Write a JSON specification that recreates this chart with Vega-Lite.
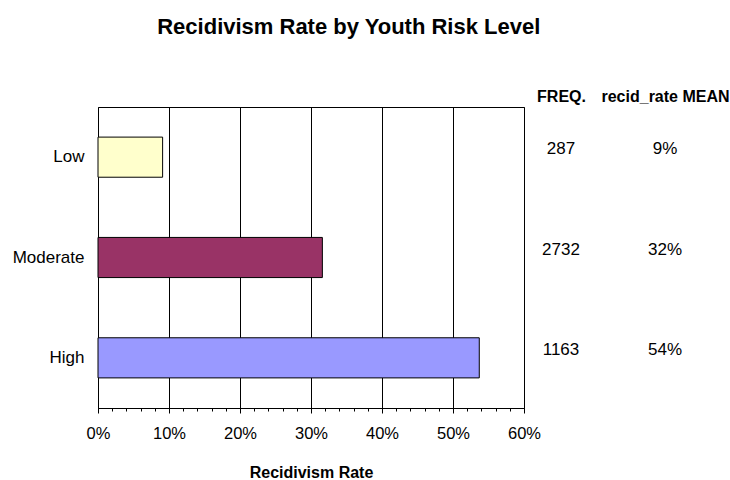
{
  "$schema": "https://vega.github.io/schema/vega-lite/v6.json",
  "padding": {"left": 10, "top": 16, "right": 5, "bottom": 0},
  "background": "white",
  "config": {
    "font": "Liberation Sans",
    "view": {"stroke": "black", "strokeWidth": 1},
    "axis": {"labelColor": "black", "titleColor": "black", "labelFont": "Liberation Sans", "titleFont": "Liberation Sans"},
    "concat": {"spacing": 6}
  },
  "bounds": "flush",
  "title": {"text": "Recidivism Rate by Youth Risk Level", "fontSize": 22, "fontWeight": "bold", "color": "black", "offset": 49, "anchor": "middle", "dx": -21},
  "data": {"values": [
    {"level": "Low", "rate": 0.091, "freq": 287},
    {"level": "Moderate", "rate": 0.316, "freq": 2732},
    {"level": "High", "rate": 0.537, "freq": 1163}
  ]},
  "hconcat": [
    {
      "width": 426,
      "height": 301,
      "mark": {"type": "bar", "stroke": "black", "strokeWidth": 1},
      "encoding": {
        "y": {"field": "level", "type": "nominal", "sort": ["Low", "Moderate", "High"],
          "scale": {"paddingInner": 0.6, "paddingOuter": 0.3},
          "axis": {"title": null, "domain": false, "ticks": false, "labelFontSize": 17, "labelPadding": 14, "minExtent": 87, "maxExtent": 87}},
        "x": {"field": "rate", "type": "quantitative", "scale": {"domain": [0, 0.6], "nice": false},
          "axis": {"title": "Recidivism Rate", "titleFontSize": 16, "titleFontWeight": "bold", "titlePadding": 23,
            "values": [0,0.02,0.04,0.06,0.08,0.1,0.12,0.14,0.16,0.18,0.2,0.22,0.24,0.26,0.28,0.3,0.32,0.34,0.36,0.38,0.4,0.42,0.44,0.46,0.48,0.5,0.52,0.54,0.56,0.58,0.6],
            "format": ".0%",
            "labelExpr": "round(datum.value*100) % 10 == 0 ? datum.label : ''",
            "labelFontSize": 16.5, "labelPadding": 12, "labelFlush": false,
            "domainColor": "black", "tickColor": "black",
            "tickSize": {"condition": {"test": "round(datum.value*100) % 10 == 0", "value": 5}, "value": 3},
            "grid": true, "gridColor": "black", "gridWidth": 1,
            "gridOpacity": {"condition": {"test": "round(datum.value*100) % 10 == 0", "value": 1}, "value": 0}}},
        "color": {"field": "level", "type": "nominal", "legend": null,
          "scale": {"domain": ["Low", "Moderate", "High"], "range": ["#FFFFCC", "#993366", "#9999FF"]}}
      }
    },
    {
      "width": 166,
      "height": 301,
      "view": {"stroke": null},
      "encoding": {
        "y": {"field": "level", "type": "nominal", "sort": ["Low", "Moderate", "High"],
          "scale": {"paddingInner": 0.6, "paddingOuter": 0.3}, "axis": null}
      },
      "layer": [
        {
          "mark": {"type": "text", "fontSize": 17, "baseline": "alphabetic", "dy": -3, "align": "center", "color": "black"},
          "encoding": {
            "x": {"datum": "FREQ.", "type": "nominal",
              "scale": {"type": "point", "domain": ["FREQ.", "recid_rate MEAN"], "padding": 0.298},
              "axis": {"orient": "top", "title": null, "domain": false, "ticks": false, "labelFontSize": 16, "labelFontWeight": "bold", "labelPadding": 3, "labelAngle": 0}},
            "text": {"field": "freq", "type": "quantitative", "format": "d"}
          }
        },
        {
          "mark": {"type": "text", "fontSize": 17, "baseline": "alphabetic", "dy": -3, "align": "center", "color": "black"},
          "encoding": {
            "x": {"datum": "recid_rate MEAN", "type": "nominal"},
            "text": {"field": "rate", "type": "quantitative", "format": ".0%"}
          }
        }
      ]
    }
  ]
}
